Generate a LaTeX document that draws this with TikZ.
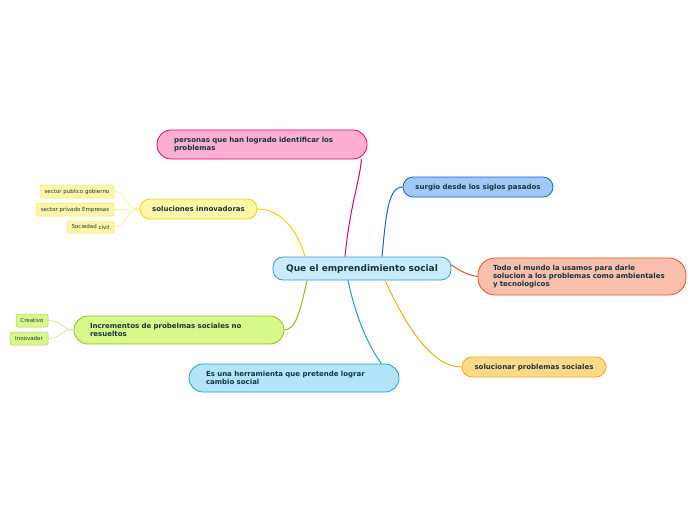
\documentclass[tikz,border=0pt]{standalone}
\usepackage{fontspec}
\setmainfont{DejaVu Sans}
\usepackage{xcolor}
\usepackage{tikz}
\usetikzlibrary{arrows.meta, positioning, calc}
\definecolor{txtdark}{RGB}{22, 52, 58}
\definecolor{centerfill}{RGB}{200, 236, 251}
\definecolor{centerline}{RGB}{62, 150, 210}
\definecolor{pinkfill}{RGB}{251, 176, 210}
\definecolor{pinkline}{RGB}{230, 0, 110}
\definecolor{bluefill}{RGB}{160, 200, 249}
\definecolor{blueline}{RGB}{22, 100, 216}
\definecolor{salmonfill}{RGB}{249, 192, 173}
\definecolor{salmonline}{RGB}{240, 78, 35}
\definecolor{yellowfill}{RGB}{255, 246, 168}
\definecolor{yellowline}{RGB}{236, 214, 0}
\definecolor{greenfill}{RGB}{216, 249, 138}
\definecolor{greenline}{RGB}{140, 190, 20}
\definecolor{skyfill}{RGB}{179, 228, 250}
\definecolor{skyline}{RGB}{20, 160, 224}
\definecolor{orangefill}{RGB}{255, 218, 138}
\definecolor{orangeline}{RGB}{245, 172, 10}

\begin{document}
\begin{tikzpicture}[x=1pt, y=-1pt,
  topic/.style={draw, line width=0.8pt, rounded corners=10pt, text=txtdark,
    font=\fontsize{7}{8.4}\selectfont\bfseries, inner ysep=0pt},
  oneline/.style={text depth=0pt},
  subtopic/.style={draw, line width=0.5pt, rounded corners=2pt, text=txtdark,
    font=\fontsize{5.5}{6}\selectfont, inner sep=0pt, minimum height=13pt},
  link/.style={line width=1pt}]
  \useasboundingbox (0,0) rectangle (696,520);

  \node[topic, oneline, fill=centerfill, draw=centerline, minimum width=178pt, minimum height=23pt,
    font=\fontsize{9}{10}\selectfont\bfseries] (center) at (362,268.5) {Que el emprendimiento social};

  \node[topic, fill=pinkfill, draw=pinkline, rounded corners=14pt, minimum height=29pt,
    text width=176pt, inner xsep=17pt, align=left] (personas) at (262,144.5)
    {personas que han logrado identificar los\\problemas};
  \node[topic, oneline, fill=bluefill, draw=blueline, minimum width=150pt, minimum height=20pt] (surgio) at (478,187)
    {surgio desde los siglos pasados};
  \node[topic, fill=salmonfill, draw=salmonline, rounded corners=17pt, minimum height=37pt,
    text width=178pt, inner xsep=15pt, align=left] (todo) at (582,276.5)
    {Todo el mundo la usamos para darle\\solucion a los problemas como ambientales\\y tecnologicos};
  \node[topic, oneline, fill=orangefill, draw=orangeline, minimum width=144pt, minimum height=20pt] (solucionar) at (534,367)
    {solucionar problemas sociales};
  \node[topic, fill=skyfill, draw=skyline, rounded corners=14pt, minimum height=28pt,
    text width=176pt, inner xsep=17pt, align=left] (herramienta) at (294,378)
    {Es una herramienta que pretende lograr\\cambio social};
  \node[topic, fill=greenfill, draw=greenline, rounded corners=14pt, minimum height=28pt,
    text width=178pt, inner xsep=16pt, align=left] (incrementos) at (179,330)
    {Incrementos de probelmas sociales no\\resueltos};
  \node[topic, oneline, fill=yellowfill, draw=yellowline, minimum width=117pt, minimum height=20pt] (soluciones) at (198.5,209)
    {soluciones innovadoras};

  \node[subtopic, fill=yellowfill, draw=yellowline!60, minimum width=74pt] (publico) at (77,191.5) {sector publico gobierno};
  \node[subtopic, fill=yellowfill, draw=yellowline!60, minimum width=78pt] (privado) at (75,209.5) {sector privado Empresas};
  \node[subtopic, fill=yellowfill, draw=yellowline!60, minimum width=47pt, minimum height=12pt] (sociedad) at (90.5,227)
    {Sociedad \raisebox{-0.8pt}{civil}};
  \node[subtopic, fill=greenfill, draw=greenline!70, minimum width=32pt] (creativo) at (32,320.5) {Creativo};
  \node[subtopic, fill=greenfill, draw=greenline!70, minimum width=38pt] (innovador) at (29,338.5) {Innovador};

  \draw[link, pinkline] ([xshift=-17pt]center.north) .. controls (350,205) and (360,180) .. ([xshift=-6pt]personas.south east);
  \draw[link, blueline] ([xshift=20pt]center.north) .. controls (386,215) and (388,187) .. (surgio.west);
  \draw[link, yellowline] ([xshift=-57pt]center.north) .. controls (298,232) and (282,209) .. (soluciones.east);
  \draw[link, salmonline] ([yshift=3.5pt]center.east) .. controls (462,272) and (468,275) .. (todo.west);
  \draw[link, greenline] ([xshift=-55pt]center.south) .. controls (300,312) and (296,329) .. (incrementos.east);
  \draw[link, skyline] ([xshift=-14pt]center.south) .. controls (356,318) and (368,345) .. ([xshift=-18pt]herramienta.north east);
  \draw[link, orangeline] ([xshift=23pt]center.south) .. controls (410,335) and (435,367) .. (solucionar.west);

  \draw[yellowline!45, line width=0.6pt] (soluciones.west) .. controls (124,209) and (128,191.5) .. (publico.east);
  \draw[yellowline!45, line width=0.6pt] (soluciones.west) -- (privado.east);
  \draw[yellowline!45, line width=0.6pt] (soluciones.west) .. controls (124,209) and (128,227) .. (sociedad.east);
  \draw[greenline!45, line width=0.6pt] (incrementos.west) .. controls (60,329) and (62,320.5) .. (creativo.east);
  \draw[greenline!45, line width=0.6pt] (incrementos.west) .. controls (60,329) and (62,338.5) .. (innovador.east);
\end{tikzpicture}
\end{document}
